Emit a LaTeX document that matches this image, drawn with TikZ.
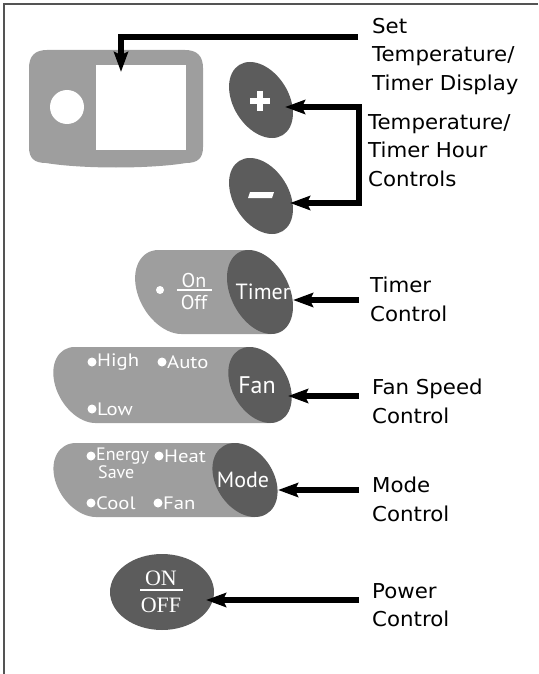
\documentclass[tikz,border=0pt]{standalone}
\usepackage{fontspec}
\setmainfont[FakeStretch=1.04]{DejaVu Sans}
\newfontfamily\btnfont{PT Sans}
\newfontfamily\widebtnfont[FakeStretch=1.15]{PT Sans}
\newfontfamily\serfont{Liberation Serif}
\usetikzlibrary{arrows.meta}
\definecolor{darkbtn}{gray}{0.36}
\definecolor{lightbtn}{gray}{0.62}
\definecolor{framecol}{gray}{0.33}
\begin{document}
\begin{tikzpicture}[x=1pt,y=-1pt,
  conn/.style={line width=5.5pt,-{Stealth[length=20pt,width=14pt,inset=3pt]}},
  lbl/.style={anchor=north west,inner sep=0pt,align=left,font=\fontsize{20.5}{28.5}\selectfont},
  btxt/.style={text=white,inner sep=0pt,font=\btnfont\fontsize{22}{22}\selectfont},
  stxt/.style={text=white,inner sep=0pt,anchor=west,font=\widebtnfont\fontsize{18}{18}\selectfont},
  oftxt/.style={text=white,inner sep=0pt,font=\btnfont\fontsize{20}{20}\selectfont},
  pwtxt/.style={text=white,inner sep=0pt,font=\serfont\fontsize{22}{22}\selectfont},
  led/.style={fill=white}]
\useasboundingbox (0,0) rectangle (538,674);
\draw[framecol,line width=1.5pt] (538,4) -- (4,4) -- (4,674);

% display unit
\fill[lightbtn] (47,50) -- (185,50) .. controls (197,50) and (203,56) .. (203,68) -- (203,147)
  .. controls (203,158) and (198,163) .. (186,163) .. controls (150,169) and (82,169) .. (46,163)
  .. controls (34,163) and (29,158) .. (29,147) -- (29,68) .. controls (29,56) and (35,50) .. (47,50) -- cycle;
\fill[white] (67,107) circle[radius=17pt];
\node[fill=white,minimum width=90pt,minimum height=85pt,inner sep=0pt,anchor=north west] (disp) at (96,65) {};

% plus / minus
\begin{scope}[shift={(261,100)},xslant=-0.29]
  \fill[darkbtn] (0,0) ellipse[x radius=30pt,y radius=38pt];
\end{scope}
\draw[white,line width=6pt] (250,101) -- (270,101) (260,91) -- (260,111);
\begin{scope}[shift={(261,196)},xslant=-0.29]
  \fill[darkbtn] (0,0) ellipse[x radius=30pt,y radius=38pt];
\end{scope}
\fill[white] (250,192) -- (274,192) -- (272,198) -- (248,198) -- cycle;

% timer pill
\begin{scope}[shift={(260,292)},xslant=-0.27]
  \fill[lightbtn] (-90,0) ellipse[x radius=33pt,y radius=42pt];
  \fill[lightbtn] (-90,-42) rectangle (0,42);
  \fill[darkbtn] (0,0) ellipse[x radius=31pt,y radius=42pt];
\end{scope}
\fill[led] (160,290) circle[radius=4pt];
\node[oftxt] (on1) at (194,280) {On};
\draw[white,line width=1.5pt] (177,290) -- (212,290);
\node[oftxt] (off1) at (194,302) {Off};
\node[btxt] (timer) at (263,292) {Timer};

% fan pill
\begin{scope}[shift={(260,385)},xslant=-0.27]
  \fill[lightbtn] (-175,0) ellipse[x radius=30pt,y radius=38pt];
  \fill[lightbtn] (-175,-38) rectangle (0,38);
  \fill[darkbtn] (0,0) ellipse[x radius=30pt,y radius=38pt];
\end{scope}
\fill[led] (92,362) circle[radius=4.5pt];
\node[stxt] (high) at (97,362) {High};
\fill[led] (162,362) circle[radius=4.5pt];
\node[stxt] (auto) at (167,362) {Auto};
\fill[led] (92,409) circle[radius=4.5pt];
\node[stxt] (low) at (97,409) {Low};
\node[btxt,font=\btnfont\fontsize{24}{24}\selectfont] (fan) at (257,385) {Fan};

% mode pill
\begin{scope}[shift={(245,480)},xslant=-0.27]
  \fill[lightbtn] (-159,0) ellipse[x radius=31pt,y radius=37pt];
  \fill[lightbtn] (-159,-37) rectangle (0,37);
  \fill[darkbtn] (0,0) ellipse[x radius=31pt,y radius=37pt];
\end{scope}
\fill[led] (91,456) circle[radius=4.5pt];
\node[stxt,font=\btnfont\fontsize{18}{18}\selectfont] (energy) at (96,456) {Energy};
\node[stxt,font=\btnfont\fontsize{18}{18}\selectfont] (save) at (98,472) {Save};
\fill[led] (159,456) circle[radius=4.5pt];
\node[stxt] (heat) at (164,456) {Heat};
\fill[led] (91,503) circle[radius=4.5pt];
\node[stxt] (cool) at (96,503) {Cool};
\fill[led] (158,503) circle[radius=4.5pt];
\node[stxt] (fanm) at (163,503) {Fan};
\node[btxt] (mode) at (243,480) {Mode};

% power
\fill[darkbtn] (162,592) ellipse[x radius=52pt,y radius=38pt];
\node[pwtxt] (on2) at (161,578) {ON};
\draw[white,line width=2pt] (140,590) -- (183,590);
\node[pwtxt] (off2) at (161,605) {OFF};

% labels
\node[lbl] (lset) at (372,18) {Set\\Temperature/\\Timer Display};
\node[lbl] (lhour) at (368,114) {Temperature/\\Timer Hour\\Controls};
\node[lbl] (ltimer) at (370,277) {Timer\\Control};
\node[lbl] (lfan) at (372,379) {Fan Speed\\Control};
\node[lbl] (lmode) at (372,477) {Mode\\Control};
\node[lbl] (lpow) at (372,583) {Power\\Control};

% connector points
\coordinate (setS) at (358,37);
\coordinate (dispT) at (121,72);
\coordinate (plusT) at (285,107);
\coordinate (brkA) at (359,107);
\coordinate (brkB) at (359,203);
\coordinate (minusT) at (290,203);
\coordinate (timS) at (359,300);
\coordinate (timT) at (293,300);
\coordinate (fanS) at (359,396);
\coordinate (fanT) at (288,396);
\coordinate (modS) at (359,490);
\coordinate (modT) at (278,490);
\coordinate (powS) at (359,600);
\coordinate (powT) at (206,600);

\draw[conn] (setS) -| (dispT);
\draw[conn,{Stealth[length=20pt,width=14pt,inset=3pt]}-{Stealth[length=20pt,width=14pt,inset=3pt]}] (plusT) -- (brkA) -- (brkB) -- (minusT);
\draw[conn] (timS) -- (timT);
\draw[conn] (fanS) -- (fanT);
\draw[conn] (modS) -- (modT);
\draw[conn] (powS) -- (powT);
\end{tikzpicture}
\end{document}
